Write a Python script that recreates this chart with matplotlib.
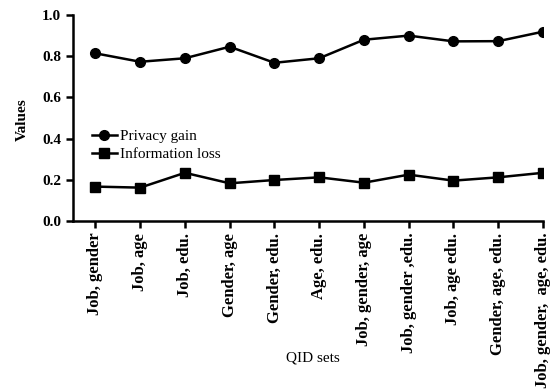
import matplotlib
matplotlib.use("Agg")
import matplotlib.pyplot as plt

qid_sets = ["Job, gender", "Job, age", "Job, edu.", "Gender, age", "Gender, edu.",
            "Age, edu.", "Job, gender, age", "Job, gender ,edu.", "Job, age edu.",
            "Gender, age, edu.", "Job, gender,  age, edu."]
privacy_gain = [0.814, 0.773, 0.790, 0.846, 0.768, 0.790, 0.880, 0.900, 0.872, 0.873, 0.919]
info_loss = [0.167, 0.162, 0.234, 0.183, 0.199, 0.212, 0.186, 0.225, 0.196, 0.212, 0.234]

plt.rcParams["font.family"] = ["Liberation Serif", "DejaVu Serif"]

fig = plt.figure(figsize=(5.57, 3.91), dpi=100)
ax = fig.add_axes([73/557, 1 - 221/391, (543 - 73)/557, (221 - 15)/391])

x = list(range(len(qid_sets)))
ax.plot(x, privacy_gain, "-o", color="black", lw=1.8, ms=7, label="Privacy gain")
ax.plot(x, info_loss, "-s", color="black", lw=1.8, ms=7, label="Information loss")

ax.set_xlim(-0.5, 10)
ax.set_ylim(0, 1.0)
ax.set_yticks([0.0, 0.2, 0.4, 0.6, 0.8, 1.0])
ax.set_yticklabels(["0.0", "0.2", "0.4", "0.6", "0.8", "1.0"], fontsize=11, fontweight="bold")
ax.set_xticks(x)
ax.set_xticklabels(qid_sets, rotation=90, fontsize=12, fontweight="bold", va="top", ha="center")
ax.spines["top"].set_visible(False)
ax.spines["right"].set_visible(False)
ax.spines["left"].set_linewidth(1.8)
ax.spines["bottom"].set_linewidth(1.8)
ax.tick_params(width=1.8, length=5)

ax.set_ylabel("Values", fontsize=11, fontweight="bold")
ax.yaxis.set_label_coords(-0.094, 0.49)
ax.set_xlabel("QID sets", fontsize=11)
ax.xaxis.set_label_coords((313 - 73)/470, -(351 - 221)/206)

ax.legend(loc="upper left", bbox_to_anchor=(0.028, 0.475), frameon=False,
          fontsize=11, handlelength=1.6, handletextpad=0.2,
          labelspacing=0.3, borderaxespad=0)

fig.savefig("out.png", dpi=100)
